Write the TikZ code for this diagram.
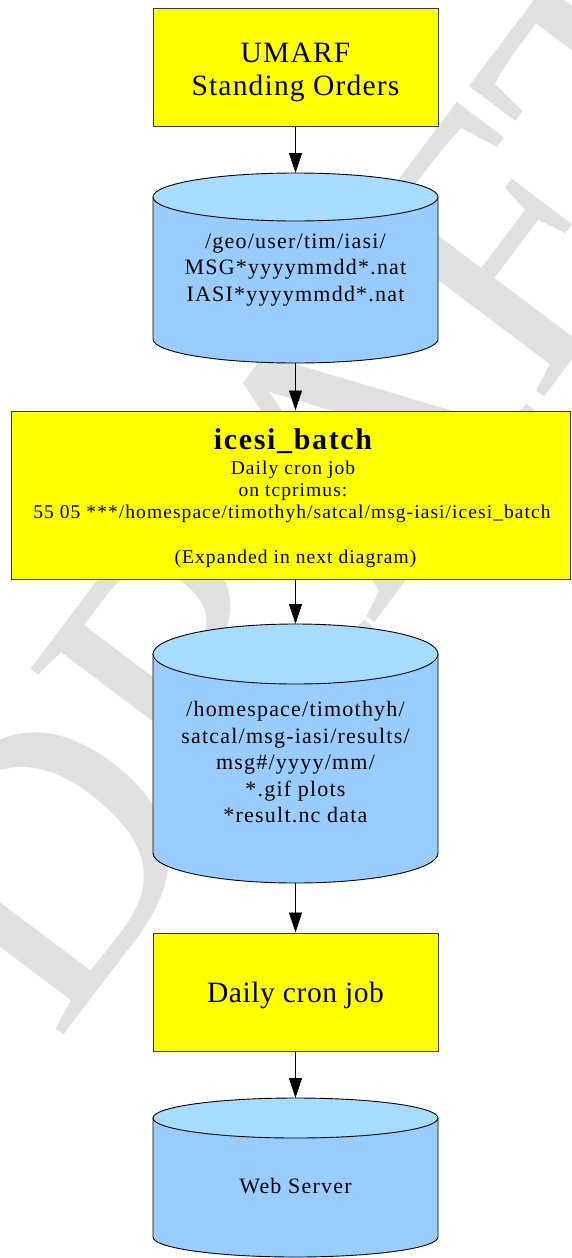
\documentclass[tikz,border=0pt]{standalone}
\usepackage{fontspec}
\setmainfont{Liberation Serif}
\newfontfamily\wideserif[LetterSpace=5.5]{Liberation Serif}
\newfontfamily\midserif[LetterSpace=4]{Liberation Serif}
\newfontfamily\tightserif[LetterSpace=2]{Liberation Serif}
\usetikzlibrary{arrows.meta}
\definecolor{boxyellow}{HTML}{FFFF00}
\definecolor{cylbody}{HTML}{99CCFF}
\definecolor{cyltop}{HTML}{A6DCFF}
\definecolor{boxborder}{HTML}{3A3A3A}
\definecolor{wmark}{HTML}{E0E0E0}
\newcommand{\drawcyl}[5]{%
  \path[cylline, fill=cylbody]
    (#2-142.5,#3+#5) -- (#2-142.5,#4-#5)
    arc[start angle=180, end angle=0, x radius=142.5, y radius=#5]
    -- (#2+142.5,#3+#5) -- cycle;
  \path[cylline, fill=cyltop] (#2,#3+#5) ellipse [x radius=142.5, y radius=#5];
  \coordinate (#1-top) at (#2,#3);
  \coordinate (#1-bot) at (#2,#4);
}
\begin{document}
\begin{tikzpicture}[x=1pt,y=-1pt,
  yellowbox/.style={draw=boxborder, line width=1pt, fill=boxyellow, rectangle, inner sep=0pt},
  cylline/.style={draw=black, line width=0.9pt},
  flow/.style={-{Triangle[length=20pt,width=13pt]}, line width=0.9pt, black},
  line/.style={anchor=base, inner sep=0pt},
  big/.style={line, font=\fontsize{29.5}{30}\midserif},
  small/.style={line, font=\fontsize{19.5}{20}\wideserif},
  cyl/.style={line, font=\fontsize{22}{22}\wideserif},
  wm/.style={text=wmark, inner sep=0pt, anchor=base west, font=\fontsize{377}{377}\selectfont}
]
\useasboundingbox (0,0) rectangle (571,1258);
\fill[white] (0,0) rectangle (571,1258);
% watermark
\node[wm, rotate=53] (wm) at (57.5,1043.6) {DRAFT};

% box 1
\node[yellowbox, minimum width=285pt, minimum height=118pt] (umarf) at (295.5,67) {};
\node[big] (t1a) at (295.5,62) {UMARF};
\node[big] (t1b) at (295.5,95) {Standing Orders};

% cylinder 1
\drawcyl{geo}{295.5}{173}{363}{24}
\node[cyl] (t2a) at (295.5,248) {/geo/user/tim/iasi/};
\node[cyl] (t2b) at (295.5,274.5) {MSG*yyyymmdd*.nat};
\node[cyl] (t2c) at (295.5,301) {IASI*yyyymmdd*.nat};

% box 2
\node[yellowbox, minimum width=559pt, minimum height=168pt] (batch) at (290.5,495) {};
\node[line, font=\fontsize{30}{30}\wideserif\bfseries] (t3a) at (293,449) {icesi\_batch};
\node[small] (t3b) at (293,474) {Daily cron job};
\node[small] (t3c) at (293,496.5) {on tcprimus:};
\node[small] (t3d) at (292,518.5) {55 05 ***/homespace/timothyh/satcal/msg-iasi/icesi\_batch};
\node[small] (t3e) at (295.5,563) {(Expanded in next diagram)};

% cylinder 2
\drawcyl{res}{295.5}{624}{883}{30}
\node[cyl] (t4a) at (295.5,716.5) {/homespace/timothyh/};
\node[cyl] (t4b) at (295.5,743) {satcal/msg-iasi/results/};
\node[cyl] (t4c) at (295.5,769.5) {msg\#/yyyy/mm/};
\node[cyl] (t4d) at (295.5,796) {*.gif plots};
\node[cyl] (t4e) at (295.5,822.5) {*result.nc data};

% box 3
\node[yellowbox, minimum width=285pt, minimum height=118pt] (cron) at (295.5,992) {};
\node[line, font=\fontsize{29.5}{30}\tightserif] (t5a) at (295.5,1002) {Daily cron job};

% cylinder 3
\drawcyl{web}{295.5}{1098}{1257}{20}
\node[cyl] (t6a) at (295.5,1193) {Web Server};

% connectors
\draw[flow] (umarf.south) -- (geo-top);
\draw[flow] (geo-bot) -- (geo-bot |- batch.north);
\draw[flow] (geo-bot |- batch.south) -- (res-top);
\draw[flow] (res-bot) -- (cron.north);
\draw[flow] (cron.south) -- (web-top);
\end{tikzpicture}
\end{document}
